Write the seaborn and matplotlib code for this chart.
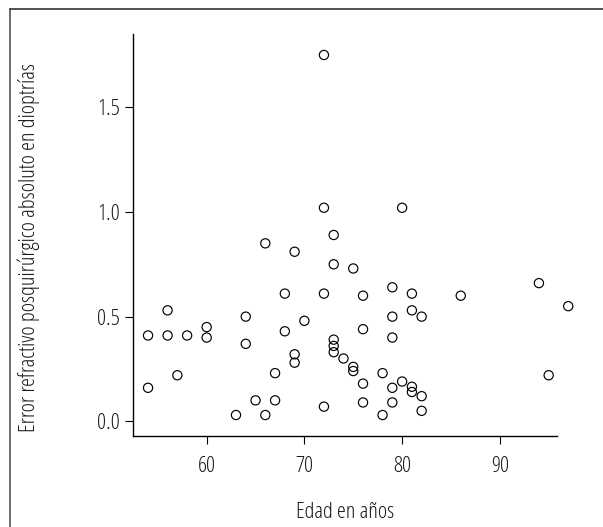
import matplotlib
matplotlib.use("Agg")
import matplotlib.pyplot as plt
from matplotlib.lines import Line2D
import seaborn as sns
import pandas as pd

# Age of each patient (years)
edad = [54, 56, 56, 58, 60, 60, 54, 57, 64, 64, 63, 65, 66, 67, 67,
        68, 70, 68, 69, 69, 72, 72, 73, 73, 73, 74, 75, 75, 76, 76,
        76, 76, 78, 78, 79, 79, 79, 79, 79, 80, 81, 81, 81, 81, 82,
        82, 82, 86, 94, 97, 95, 72, 80, 73, 66, 69, 73, 75, 72]

# Absolute post-surgical refractive error (diopters)
error_abs = [0.41, 0.53, 0.41, 0.41, 0.45, 0.40, 0.16, 0.22, 0.50, 0.37,
             0.03, 0.10, 0.03, 0.23, 0.10, 0.61, 0.48, 0.43, 0.32, 0.28,
             0.61, 0.07, 0.39, 0.36, 0.33, 0.30, 0.26, 0.24, 0.60, 0.44,
             0.18, 0.09, 0.23, 0.03, 0.64, 0.50, 0.40, 0.16, 0.09, 0.19,
             0.61, 0.53, 0.165, 0.14, 0.50, 0.12, 0.05, 0.60, 0.66, 0.55,
             0.22, 1.02, 1.02, 0.89, 0.85, 0.81, 0.75, 0.73, 1.75]

x_ticks = [60, 70, 80, 90]
y_ticks = [0.0, 0.5, 1.0, 1.5]
y_tick_labels = ["0.0", "0.5", "1.0", "1.5"]

df = pd.DataFrame({"edad": edad, "error": error_abs})

sns.set_style("ticks")
plt.rcParams["font.family"] = ["Open Sans", "DejaVu Sans"]
plt.rcParams["font.stretch"] = "condensed"
plt.rcParams["font.weight"] = "normal"
FS = 16.2
plt.rcParams["font.size"] = FS

W, H = 603, 527
fig = plt.figure(figsize=(W / 100, H / 100), dpi=100)
ax = fig.add_axes([132.7 / W, 1 - 435.7 / H, 424.0 / W, 402.1 / H])

sns.scatterplot(data=df, x="edad", y="error", ax=ax, marker="o",
                s=44, facecolors="none", edgecolors="black",
                linewidth=0.85, clip_on=False, legend=False)

ax.set_xlim(52.43, 95.82)
ax.set_ylim(-0.0688, 1.852)
ax.set_xticks(x_ticks)
ax.set_yticks(y_ticks)
ax.set_yticklabels(y_tick_labels)

for side in ("top", "right"):
    ax.spines[side].set_visible(False)
for side in ("left", "bottom"):
    ax.spines[side].set_color("black")
    ax.spines[side].set_linewidth(1.0)

ax.tick_params(axis="both", direction="out", length=5.8, width=0.8,
               color="black", labelsize=FS, labelcolor="#1a1a1a")
ax.tick_params(axis="y", pad=3.5)
ax.tick_params(axis="x", pad=9)

ax.set_xlabel("Edad en años", fontsize=FS, color="#1a1a1a")
ax.set_ylabel("Error refractivo posquirúrgico absoluto en dioptrías",
              fontsize=FS, color="#1a1a1a")
ax.xaxis.set_label_coords(0.5, -0.164)
ax.yaxis.set_label_coords(-0.219, 0.467)

# Outer frame (top and left edges)
fig.add_artist(Line2D([9.5 / W, 9.5 / W], [0, 1 - 9.2 / H],
                      transform=fig.transFigure, color="#555555", lw=1.2))
fig.add_artist(Line2D([9.5 / W, 1], [1 - 9.2 / H, 1 - 9.2 / H],
                      transform=fig.transFigure, color="#333333", lw=1.2))

fig.savefig("out.png", dpi=100, facecolor="white")
